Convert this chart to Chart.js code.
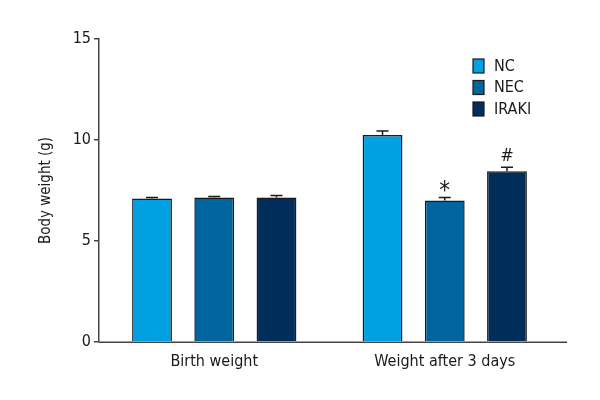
<!DOCTYPE html>
<html>
<head>
<meta charset="utf-8">
<script src="https://cdn.jsdelivr.net/npm/chart.js@4.4.0/dist/chart.umd.min.js"></script>
<style>
  html, body { margin: 0; padding: 0; background: #fff; }
  #wrap { width: 600px; height: 400px; }
</style>
</head>
<body>
<div id="wrap"><canvas id="ChartBodyWeight"></canvas></div>
<script>
// data
const categories = ['Birth weight', 'Weight after 3 days'];
const groupNames = ['NC', 'NEC', 'IRAKI'];
const ncValues = [7.1, 10.25];
const necValues = [7.15, 7.0];
const irakiValues = [7.15, 8.45];
const ncErrors = [0.05, 0.2];
const necErrors = [0.05, 0.15];
const irakiErrors = [0.1, 0.2];
const ncMarks = ['', ''];
const necMarks = ['', '*'];
const irakiMarks = ['', '#'];
const yTicks = [0, 5, 10, 15];

const FONT = '"Liberation Sans Narrow", "DejaVu Sans Condensed", "Open Sans", sans-serif';
const colors = ['#00a0e3', '#00659f', '#002d5a'];

// error bars (upward only) + significance marks
const errorBarPlugin = {
    id: 'errorBars',
    afterDatasetsDraw(chart) {
        const ctx = chart.ctx;
        const yScale = chart.scales.y;
        chart.data.datasets.forEach(function(ds, i) {
            const meta = chart.getDatasetMeta(i);
            meta.data.forEach(function(bar, j) {
                const top = yScale.getPixelForValue(ds.data[j] + ds.errors[j]);
                ctx.save();
                ctx.strokeStyle = '#1a1a1a';
                ctx.lineWidth = 1.5;
                ctx.beginPath();
                ctx.moveTo(bar.x, bar.y);
                ctx.lineTo(bar.x, top);
                ctx.moveTo(bar.x - 6, top);
                ctx.lineTo(bar.x + 6, top);
                ctx.stroke();
                if (ds.marks[j]) {
                    ctx.fillStyle = '#1a1a1a';
                    ctx.textAlign = 'center';
                    ctx.textBaseline = 'middle';
                    if (ds.marks[j] === '*') {
                        ctx.font = '24px ' + FONT;
                        ctx.fillText(ds.marks[j], bar.x, top - 6);
                    } else {
                        ctx.font = '18px ' + FONT;
                        ctx.fillText(ds.marks[j], bar.x, top - 11);
                    }
                }
                ctx.restore();
            });
        });
        // x axis line, running a bit past the last category
        const area = chart.chartArea;
        ctx.save();
        ctx.strokeStyle = '#444';
        ctx.lineWidth = 1.5;
        ctx.beginPath();
        ctx.moveTo(area.left, area.bottom + 0.25);
        ctx.lineTo(area.right + 7, area.bottom + 0.25);
        ctx.stroke();
        ctx.restore();
    }
};

// legend drawn inside the plot, upper right
const boxLegendPlugin = {
    id: 'boxLegend',
    afterDraw(chart) {
        const ctx = chart.ctx;
        ctx.save();
        chart.data.datasets.forEach(function(ds, i) {
            const y = 59 + i * 21.5;
            ctx.fillStyle = ds.backgroundColor;
            ctx.strokeStyle = '#1a1a1a';
            ctx.lineWidth = 1.2;
            ctx.fillRect(473, y, 11, 14);
            ctx.strokeRect(473, y, 11, 14);
            ctx.fillStyle = '#1a1a1a';
            ctx.font = '16px ' + FONT;
            ctx.textAlign = 'left';
            ctx.textBaseline = 'middle';
            ctx.fillText(ds.label, 494, y + 7.5);
        });
        ctx.restore();
    }
};

const ctx = document.getElementById('ChartBodyWeight').getContext('2d');
const myChart = new Chart(ctx, {
    type: 'bar',
    data: {
        labels: categories,
        datasets: [
            { label: groupNames[0], data: ncValues, errors: ncErrors, marks: ncMarks,
              backgroundColor: colors[0], borderColor: '#1a1a1a', borderWidth: 1.5 },
            { label: groupNames[1], data: necValues, errors: necErrors, marks: necMarks,
              backgroundColor: colors[1], borderColor: '#1a1a1a', borderWidth: 1.5 },
            { label: groupNames[2], data: irakiValues, errors: irakiErrors, marks: irakiMarks,
              backgroundColor: colors[2], borderColor: '#1a1a1a', borderWidth: 1.5 }
        ]
    },
    options: {
        responsive: true,
        maintainAspectRatio: false,
        animation: false,
        layout: { padding: { top: 39, right: 40, left: 0, bottom: 0 } },
        plugins: {
            legend: { display: false },
            tooltip: { enabled: false }
        },
        datasets: {
            bar: { categoryPercentage: 0.81, barPercentage: 0.64 }
        },
        scales: {
            x: {
                grid: { display: false },
                border: { display: false },
                ticks: { color: '#1a1a1a', font: { family: FONT, size: 16 }, padding: 2 },
                afterFit: function(scale) { scale.height = 58; }
            },
            y: {
                min: 0,
                max: 15,
                afterBuildTicks: function(scale) {
                    scale.ticks = yTicks.map(function(v) { return { value: v }; });
                },
                grid: { drawOnChartArea: false, drawTicks: true, tickLength: 5, color: '#444', lineWidth: 1.5 },
                border: { display: true, color: '#444', width: 1.5 },
                ticks: { color: '#1a1a1a', font: { family: FONT, size: 16 }, padding: 3 },
                title: { display: true, text: 'Body weight (g)', color: '#1a1a1a',
                         font: { family: FONT, size: 15 }, padding: { top: 37, bottom: 0 } },
                afterFit: function(scale) { scale.width = 99; }
            }
        }
    },
    plugins: [errorBarPlugin, boxLegendPlugin]
});
</script>
</body>
</html>
